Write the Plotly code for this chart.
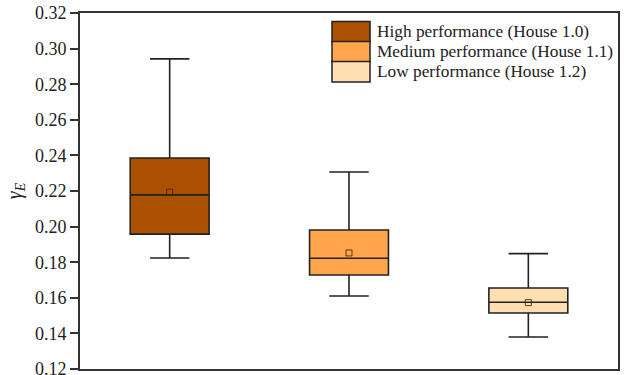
import plotly.graph_objects as go

categories = ["High performance (House 1.0)", "Medium performance (House 1.1)", "Low performance (House 1.2)"]
q1 = [0.1958, 0.1728, 0.1515]
median = [0.2178, 0.1822, 0.1575]
q3 = [0.2385, 0.1981, 0.1655]
lower = [0.1824, 0.1610, 0.1380]
upper = [0.2942, 0.2307, 0.1848]
means = [0.2194, 0.1852, 0.1573]
fills = ["#AA5000", "#FFA54B", "#FFDEB2"]
yticks = [0.12, 0.14, 0.16, 0.18, 0.20, 0.22, 0.24, 0.26, 0.28, 0.30, 0.32]

FONT = "Liberation Serif"
fig = go.Figure()
for i, c in enumerate(categories):
    fig.add_trace(go.Box(
        x=[c], q1=[q1[i]], median=[median[i]], q3=[q3[i]],
        lowerfence=[lower[i]], upperfence=[upper[i]],
        fillcolor=fills[i], line=dict(color="#222222", width=1.6),
        width=0.44, whiskerwidth=0.5, boxpoints=False, showlegend=False,
        hoverinfo="skip"))

fig.add_trace(go.Scatter(
    x=categories, y=means, mode="markers",
    marker=dict(symbol="square-open", size=6, color="rgba(70,35,0,0.85)", line=dict(width=1)),
    showlegend=False, hoverinfo="skip"))

# custom legend (swatches + labels)
PX_L, PX_R, PX_T, PX_B = 80, 618, 13, 369
def px(x):
    return (x - PX_L) / (PX_R - PX_L)
def py(y):
    return (PX_B - y) / (PX_B - PX_T)

row_tops = [21.5, 41.5, 61.5]
row_h = 20.5
for i, c in enumerate(categories):
    t = row_tops[i]
    fig.add_shape(type="rect", xref="paper", yref="paper",
                  x0=px(332), x1=px(370), y0=py(t + row_h), y1=py(t),
                  fillcolor=fills[i], line=dict(color="#222222", width=1.5))
    fig.add_annotation(xref="paper", yref="paper", x=px(375), y=py(t + row_h / 2),
                       text=c, showarrow=False, xanchor="left", yanchor="middle",
                       font=dict(family=FONT, size=17.3, color="#222222"))

fig.update_layout(
    width=624, height=375,
    margin=dict(l=PX_L, r=624 - PX_R, t=PX_T, b=375 - PX_B, autoexpand=False),
    paper_bgcolor="white", plot_bgcolor="white",
    boxmode="overlay",
    font=dict(family=FONT, color="#222222"),
    xaxis=dict(showticklabels=False, ticks="", showgrid=False, zeroline=False,
               showline=True, linecolor="#333333", linewidth=1.5, mirror=True,
               range=[-0.5, 2.5], automargin=False),
    yaxis=dict(range=[0.12, 0.32], tickvals=yticks,
               ticktext=[f"{v:.2f}" for v in yticks],
               ticklabeloverflow="allow", automargin=False,
               ticks="outside", ticklen=8, tickwidth=1.5, tickcolor="#333333",
               showgrid=False, zeroline=False,
               showline=True, linecolor="#333333", linewidth=1.8, mirror=True,
               tickfont=dict(family=FONT, size=18, color="#222222"),
               title=dict(text="<i>γ<sub>E</sub></i>", standoff=8,
                          font=dict(family=FONT, size=20, color="#222222"))),
)

fig.write_html("out.html", config={"displayModeBar": False},
               post_script="document.body.style.margin='0';document.body.style.overflow='hidden';")
